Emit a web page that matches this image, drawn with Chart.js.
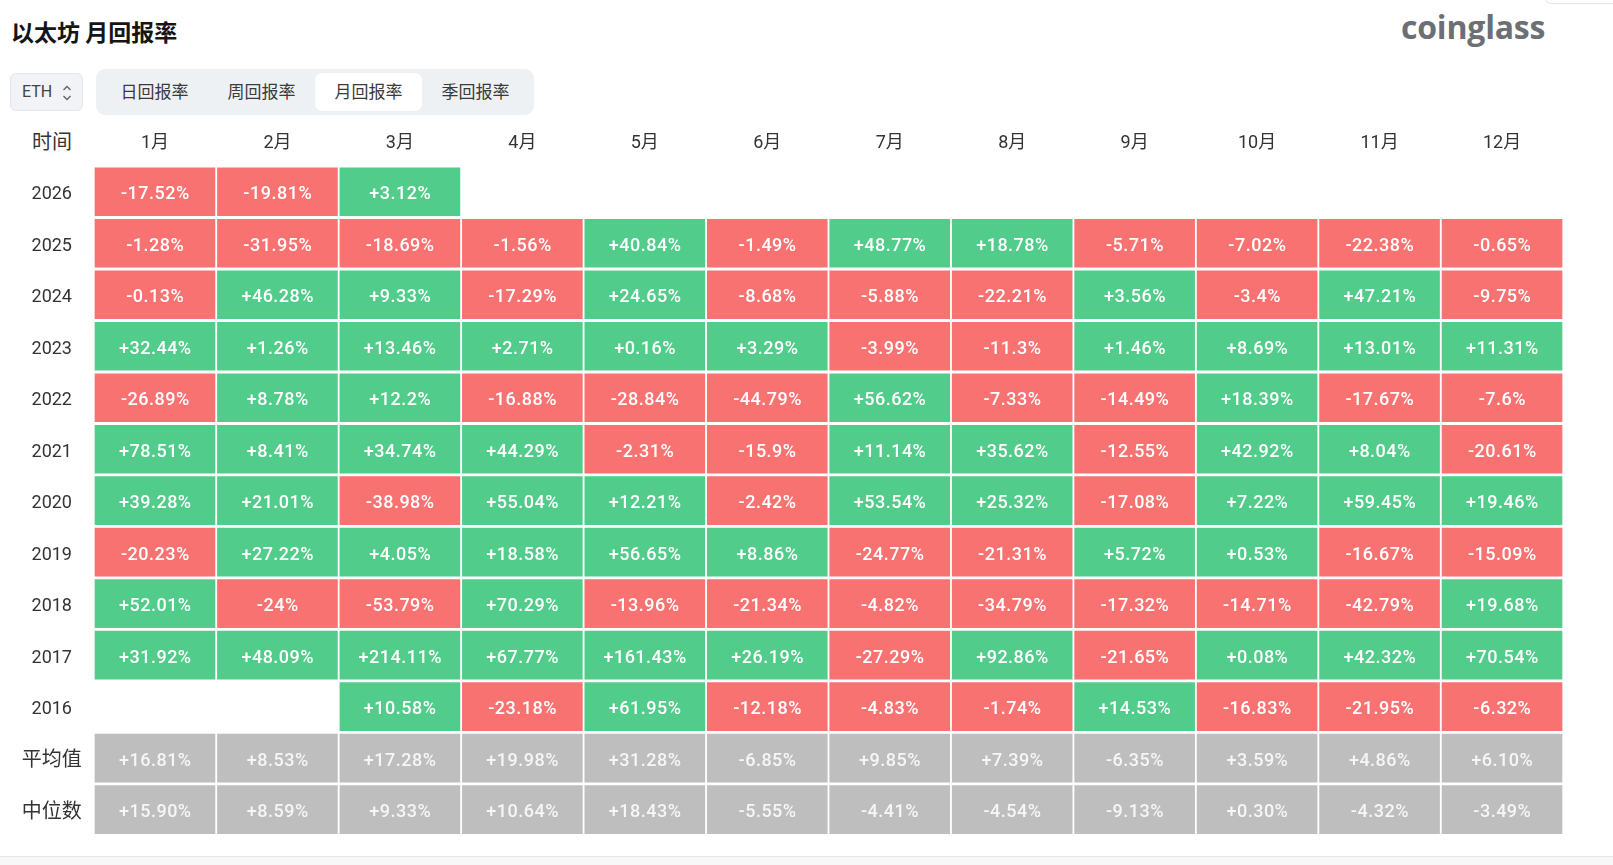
<!DOCTYPE html>
<html>
<head>
<meta charset="utf-8">
<script src="https://cdn.jsdelivr.net/npm/chart.js@4.4.1/dist/chart.umd.min.js"></script>
<style>
  body { margin: 0; width: 1613px; height: 865px; overflow: hidden; background: #fff;
         font-family: Roboto, "Noto Sans CJK SC", sans-serif; }
  .title { position: absolute; left: 11px; top: 15px; font-size: 23px; font-weight: 700; color: #151515;
           font-family: "Noto Sans CJK SC", sans-serif; line-height: 32px; }
  .logo { position: absolute; left: 1401px; top: 5px; font-family: "Open Sans", sans-serif; font-weight: 700;
          font-size: 32px; color: #6c6f73; letter-spacing: -0.2px; line-height: 44px; }
  .corner { position: absolute; left: 1545px; top: -30px; width: 90px; height: 32px; border: 1px solid #e3e6ea; border-radius: 6px; }
  .eth { position: absolute; left: 10px; top: 73px; width: 71px; height: 36px; background: #f1f3f6;
         border: 1px solid #e3e6ea; border-radius: 6px; box-sizing: content-box; }
  .eth span { position: absolute; left: 11px; top: 8px; font-size: 16px; color: #444; }
  .eth svg { position: absolute; left: 51px; top: 10px; }
  .tabs { position: absolute; left: 96px; top: 69px; width: 438px; height: 46px; background: #eef1f4; border-radius: 9px; }
  .tab { position: absolute; top: 4px; width: 107px; height: 38px; line-height: 36px; text-align: center;
         font-size: 17px; color: #3a3a3a; font-family: "Noto Sans CJK SC", sans-serif; }
  .tab.on { background: #fff; border-radius: 7px; }
  .corner-label { position: absolute; left: 22px; top: 128px; width: 60px; text-align: center; font-size: 20px;
                  color: #333; font-family: "Noto Sans CJK SC", sans-serif; line-height: 26px; }
  .wrap { position: absolute; left: 0; top: 100px; width: 1613px; height: 765px; }
  .foot { position: absolute; left: 0; top: 856px; width: 1613px; height: 9px; background: #f7f7f7; border-top: 1px solid #e6e6e6; }
</style>
</head>
<body>
<div class="title">以太坊 月回报率</div>
<div class="logo">coinglass</div>
<div class="corner"></div>
<div class="eth"><span>ETH</span>
  <svg width="10" height="18" viewBox="0 0 10 18"><path d="M1.5 6 L5 2.5 L8.5 6 M1.5 12 L5 15.5 L8.5 12" fill="none" stroke="#666" stroke-width="1.4"/></svg>
</div>
<div class="tabs">
  <div class="tab" style="left:5px">日回报率</div>
  <div class="tab" style="left:112px">周回报率</div>
  <div class="tab on" style="left:219px">月回报率</div>
  <div class="tab" style="left:326px">季回报率</div>
</div>
<div class="corner-label">时间</div>
<div class="wrap"><canvas id="heatmap"></canvas></div>
<div class="foot"></div>
<script>
const months = ['1月', '2月', '3月', '4月', '5月', '6月', '7月', '8月', '9月', '10月', '11月', '12月'];
const rowLabels = ['2026', '2025', '2024', '2023', '2022', '2021', '2020', '2019', '2018', '2017', '2016', '平均值', '中位数'];

const r2026 = [-17.52, -19.81, 3.12, null, null, null, null, null, null, null, null, null];
const r2025 = [-1.28, -31.95, -18.69, -1.56, 40.84, -1.49, 48.77, 18.78, -5.71, -7.02, -22.38, -0.65];
const r2024 = [-0.13, 46.28, 9.33, -17.29, 24.65, -8.68, -5.88, -22.21, 3.56, -3.4, 47.21, -9.75];
const r2023 = [32.44, 1.26, 13.46, 2.71, 0.16, 3.29, -3.99, -11.3, 1.46, 8.69, 13.01, 11.31];
const r2022 = [-26.89, 8.78, 12.2, -16.88, -28.84, -44.79, 56.62, -7.33, -14.49, 18.39, -17.67, -7.6];
const r2021 = [78.51, 8.41, 34.74, 44.29, -2.31, -15.9, 11.14, 35.62, -12.55, 42.92, 8.04, -20.61];
const r2020 = [39.28, 21.01, -38.98, 55.04, 12.21, -2.42, 53.54, 25.32, -17.08, 7.22, 59.45, 19.46];
const r2019 = [-20.23, 27.22, 4.05, 18.58, 56.65, 8.86, -24.77, -21.31, 5.72, 0.53, -16.67, -15.09];
const r2018 = [52.01, -24, -53.79, 70.29, -13.96, -21.34, -4.82, -34.79, -17.32, -14.71, -42.79, 19.68];
const r2017 = [31.92, 48.09, 214.11, 67.77, 161.43, 26.19, -27.29, 92.86, -21.65, 0.08, 42.32, 70.54];
const r2016 = [null, null, 10.58, -23.18, 61.95, -12.18, -4.83, -1.74, 14.53, -16.83, -21.95, -6.32];
const avgRow = [16.81, 8.53, 17.28, 19.98, 31.28, -6.85, 9.85, 7.39, -6.35, 3.59, 4.86, 6.10];
const medianRow = [15.90, 8.59, 9.33, 10.64, 18.43, -5.55, -4.41, -4.54, -9.13, 0.30, -4.32, -3.49];

const rows = [r2026, r2025, r2024, r2023, r2022, r2021, r2020, r2019, r2018, r2017, r2016, avgRow, medianRow];
const statsFrom = 11; // rows from here on are 平均值 / 中位数

const RED = '#f87272', GREEN = '#52cc8a', GRAY = '#bebebe';

function fmt(v, r) {
    const s = r >= statsFrom ? v.toFixed(2) : String(v);
    return (v > 0 ? '+' : '') + s + '%';
}

function cellColor(r, m) {
    const v = rows[r][m];
    if (r >= statsFrom) return GRAY;
    return v >= 0 ? GREEN : RED;
}

// one dataset per month column, each cell a floating bar [m, m+1]
const datasets = months.map((name, m) => ({
    label: name,
    data: rows.map(row => row[m] == null ? null : [m, m + 1]),
    backgroundColor: ctx => cellColor(ctx.dataIndex, m),
    borderColor: '#ffffff',
    borderWidth: { top: 1.75, bottom: 1.75, left: 1.25, right: 1.25 },
    borderSkipped: false,
    barPercentage: 1,
    categoryPercentage: 1
}));

// draw the % labels in the middle of each cell
const cellLabels = {
    id: 'cellLabels',
    afterDatasetsDraw(chart) {
        const ctx = chart.ctx;
        ctx.save();
        ctx.font = '500 18px Roboto';
        ctx.letterSpacing = '0.5px';
        ctx.textAlign = 'center';
        ctx.textBaseline = 'middle';
        chart.data.datasets.forEach((ds, m) => {
            chart.getDatasetMeta(m).data.forEach((bar, r) => {
                const v = rows[r][m];
                if (v == null) return;
                const p = bar.getCenterPoint();
                ctx.fillStyle = r >= statsFrom ? '#f6f6f6' : '#ffffff';
                ctx.fillText(fmt(v, r), p.x + 0.3, p.y + 3);
            });
        });
        ctx.restore();
    }
};

new Chart(document.getElementById('heatmap'), {
    type: 'bar',
    data: { labels: rowLabels, datasets: datasets },
    options: {
        indexAxis: 'y',
        responsive: true,
        maintainAspectRatio: false,
        animation: false,
        layout: { padding: { left: 0, right: 49.75, top: 0, bottom: 29.6 } },
        plugins: {
            legend: { display: false },
            title: { display: false },
            tooltip: { enabled: false }
        },
        scales: {
            x: {
                type: 'linear',
                position: 'top',
                min: 0,
                max: 12,
                grid: { display: false, drawTicks: false },
                border: { display: false },
                afterBuildTicks: axis => { axis.ticks = months.map((_, i) => ({ value: i + 0.5 })); },
                afterFit: axis => { axis.height = 66; },
                ticks: {
                    autoSkip: false,
                    maxRotation: 0,
                    padding: 11.5,
                    color: '#333',
                    font: { size: 18, family: 'Roboto, "Noto Sans CJK SC"' },
                    callback: (v, i) => months[i]
                }
            },
            y: {
                stacked: true,
                grid: { display: false, drawTicks: false },
                border: { display: false },
                afterFit: axis => { axis.width = 93.75; },
                ticks: {
                    crossAlign: 'center',
                    padding: 12,
                    labelOffset: 3,
                    color: '#333',
                    font: ctx => ({ size: ctx.index >= statsFrom ? 20 : 18, family: 'Roboto, "Noto Sans CJK SC"' })
                }
            }
        }
    },
    plugins: [cellLabels]
});
</script>
</body>
</html>
